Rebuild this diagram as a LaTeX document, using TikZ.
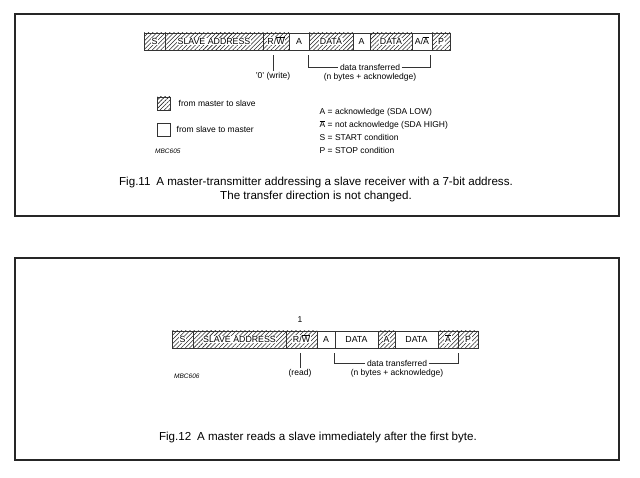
\documentclass[tikz,border=0pt]{standalone}
\usepackage{fontspec}
\setmainfont{Liberation Sans}
\usetikzlibrary{patterns.meta}
\newcommand\ovl[1]{{\setbox0\hbox{#1}\rlap{\rule[\dimexpr\ht0+0.7pt\relax]{\wd0}{0.45pt}}\box0}}
\newcommand\wbg[1]{{\setlength{\fboxsep}{0.6pt}\colorbox{white}{#1}}}
\tikzset{
  frame/.style={draw=black!85, line width=1.3pt},
  cell/.style={draw=black!80, line width=0.7pt, minimum height=17pt, inner sep=0pt, text height=6.4pt, text depth=0pt, font=\fontsize{8.8}{10}\selectfont, anchor=center},
  hcell/.style={cell, pattern={Lines[angle=45,distance=3pt,line width=0.55pt]}, pattern color=black!85},
  wcell/.style={cell, fill=white},
  lbl/.style={inner sep=1.5pt, font=\fontsize{8.5}{10}\selectfont},
  figcaption/.style={inner sep=0pt, font=\fontsize{11.6}{13.5}\selectfont, align=center},
  code/.style={inner sep=0pt, font=\fontsize{6.5}{7}\selectfont\itshape, anchor=west},
  conn/.style={draw=black!80, line width=0.6pt},
}
\begin{document}
\begin{tikzpicture}[x=1pt,y=-1pt]
\useasboundingbox (0,0) rectangle (640,478);
% frames
\draw[frame] (15,14) rectangle (619,216);
\draw[frame] (15,258) rectangle (619,460);

% ---------- Fig.11 bar ----------
\node[hcell, minimum width=21pt] (s1) at (154.5,41.5) {\wbg{S}};
\node[hcell, minimum width=98pt] (sa1) at (214,41.5) {\wbg{SLAVE ADDRESS}};
\node[hcell, minimum width=26pt] (rw1) at (276,41.5) {\wbg{R/\ovl{W}}};
\node[wcell, minimum width=20pt] (a1) at (299,41.5) {A};
\node[hcell, minimum width=44pt] (d1) at (331,41.5) {\wbg{DATA}};
\node[wcell, minimum width=17pt] (a2) at (361.5,41.5) {A};
\node[hcell, minimum width=42pt] (d2) at (391,41.5) {\wbg{DATA}};
\node[wcell, minimum width=20pt] (aa1) at (422,41.5) {A/\ovl{A}};
\node[hcell, minimum width=18pt] (p1) at (441,41.5) {\wbg{P}};

\node[lbl, inner sep=1pt] (wr) at (273,76) {'0' (write)};
\draw[conn] ([yshift=-5pt]rw1.south -| wr.north) -- (wr.north);
\node[lbl] (dt1) at (370,67) {data transferred};
\node[lbl, inner sep=0pt] (nb1) at (370,77) {(n bytes + acknowledge)};
\draw[conn] ([yshift=-5pt]d1.south west) |- (dt1.west);
\draw[conn] (dt1.east) -| ([yshift=-5pt,xshift=-2pt]aa1.south east);

% legend
\node[draw=black!80, line width=0.7pt, minimum size=13pt, inner sep=0pt,
      pattern={Lines[angle=45,distance=3pt,line width=0.55pt]}, pattern color=black!85] (lgh) at (163.5,103.5) {};
\node[lbl, anchor=west] (lght) at (177,103.5) {from master to slave};
\node[draw=black!80, line width=0.7pt, minimum size=13pt, inner sep=0pt, fill=white] (lgw) at (163.5,129.5) {};
\node[lbl, anchor=west] (lgwt) at (175,129.5) {from slave to master};
\node[code] (mbc5) at (155,151) {MBC605};

\node[lbl, anchor=west] (dA) at (318,112) {A = acknowledge (SDA LOW)};
\node[lbl, anchor=west] (dNA) at (318,125) {\ovl{A} = not acknowledge (SDA HIGH)};
\node[lbl, anchor=west] (dS) at (318,137.5) {S = START condition};
\node[lbl, anchor=west] (dP) at (318,150) {P = STOP condition};

\node[figcaption] (cap1) at (316,189.5) {Fig.11\enspace A master-transmitter addressing a slave receiver with a 7-bit address.\\The transfer direction is not changed.};

% ---------- Fig.12 bar ----------
\node[hcell, minimum width=21pt] (s2) at (182.5,339.5) {\wbg{S}};
\node[hcell, minimum width=93pt] (sa2) at (239.5,339.5) {\wbg{SLAVE ADDRESS}};
\node[hcell, minimum width=31pt] (rw2) at (301.5,339.5) {\wbg{R/\ovl{W}}};
\node[wcell, minimum width=18pt] (a3) at (326,339.5) {A};
\node[wcell, minimum width=43pt] (d3) at (356.5,339.5) {DATA};
\node[hcell, minimum width=17pt] (a4) at (386.5,339.5) {\wbg{A}};
\node[wcell, minimum width=43pt] (d4) at (416.5,339.5) {DATA};
\node[hcell, minimum width=20pt] (na2) at (448,339.5) {\wbg{\ovl{A}}};
\node[hcell, minimum width=20pt] (p2) at (468,339.5) {\wbg{P}};

\node[lbl, inner sep=0pt] (one) at (300,320) {1};
\node[lbl, inner sep=1pt] (rd) at (300,373) {(read)};
\draw[conn] ([yshift=-5pt]rw2.south -| rd.north) -- (rd.north);
\node[lbl] (dt2) at (397,363) {data transferred};
\node[lbl, inner sep=0pt] (nb2) at (397,373) {(n bytes + acknowledge)};
\draw[conn] ([yshift=-5pt]d3.south west) |- (dt2.west);
\draw[conn] (dt2.east) -| ([yshift=-5pt]na2.south east);
\node[code] (mbc6) at (174,376) {MBC606};

\node[figcaption] (cap2) at (318,437) {Fig.12\enspace A master reads a slave immediately after the first byte.};
\end{tikzpicture}
\end{document}
